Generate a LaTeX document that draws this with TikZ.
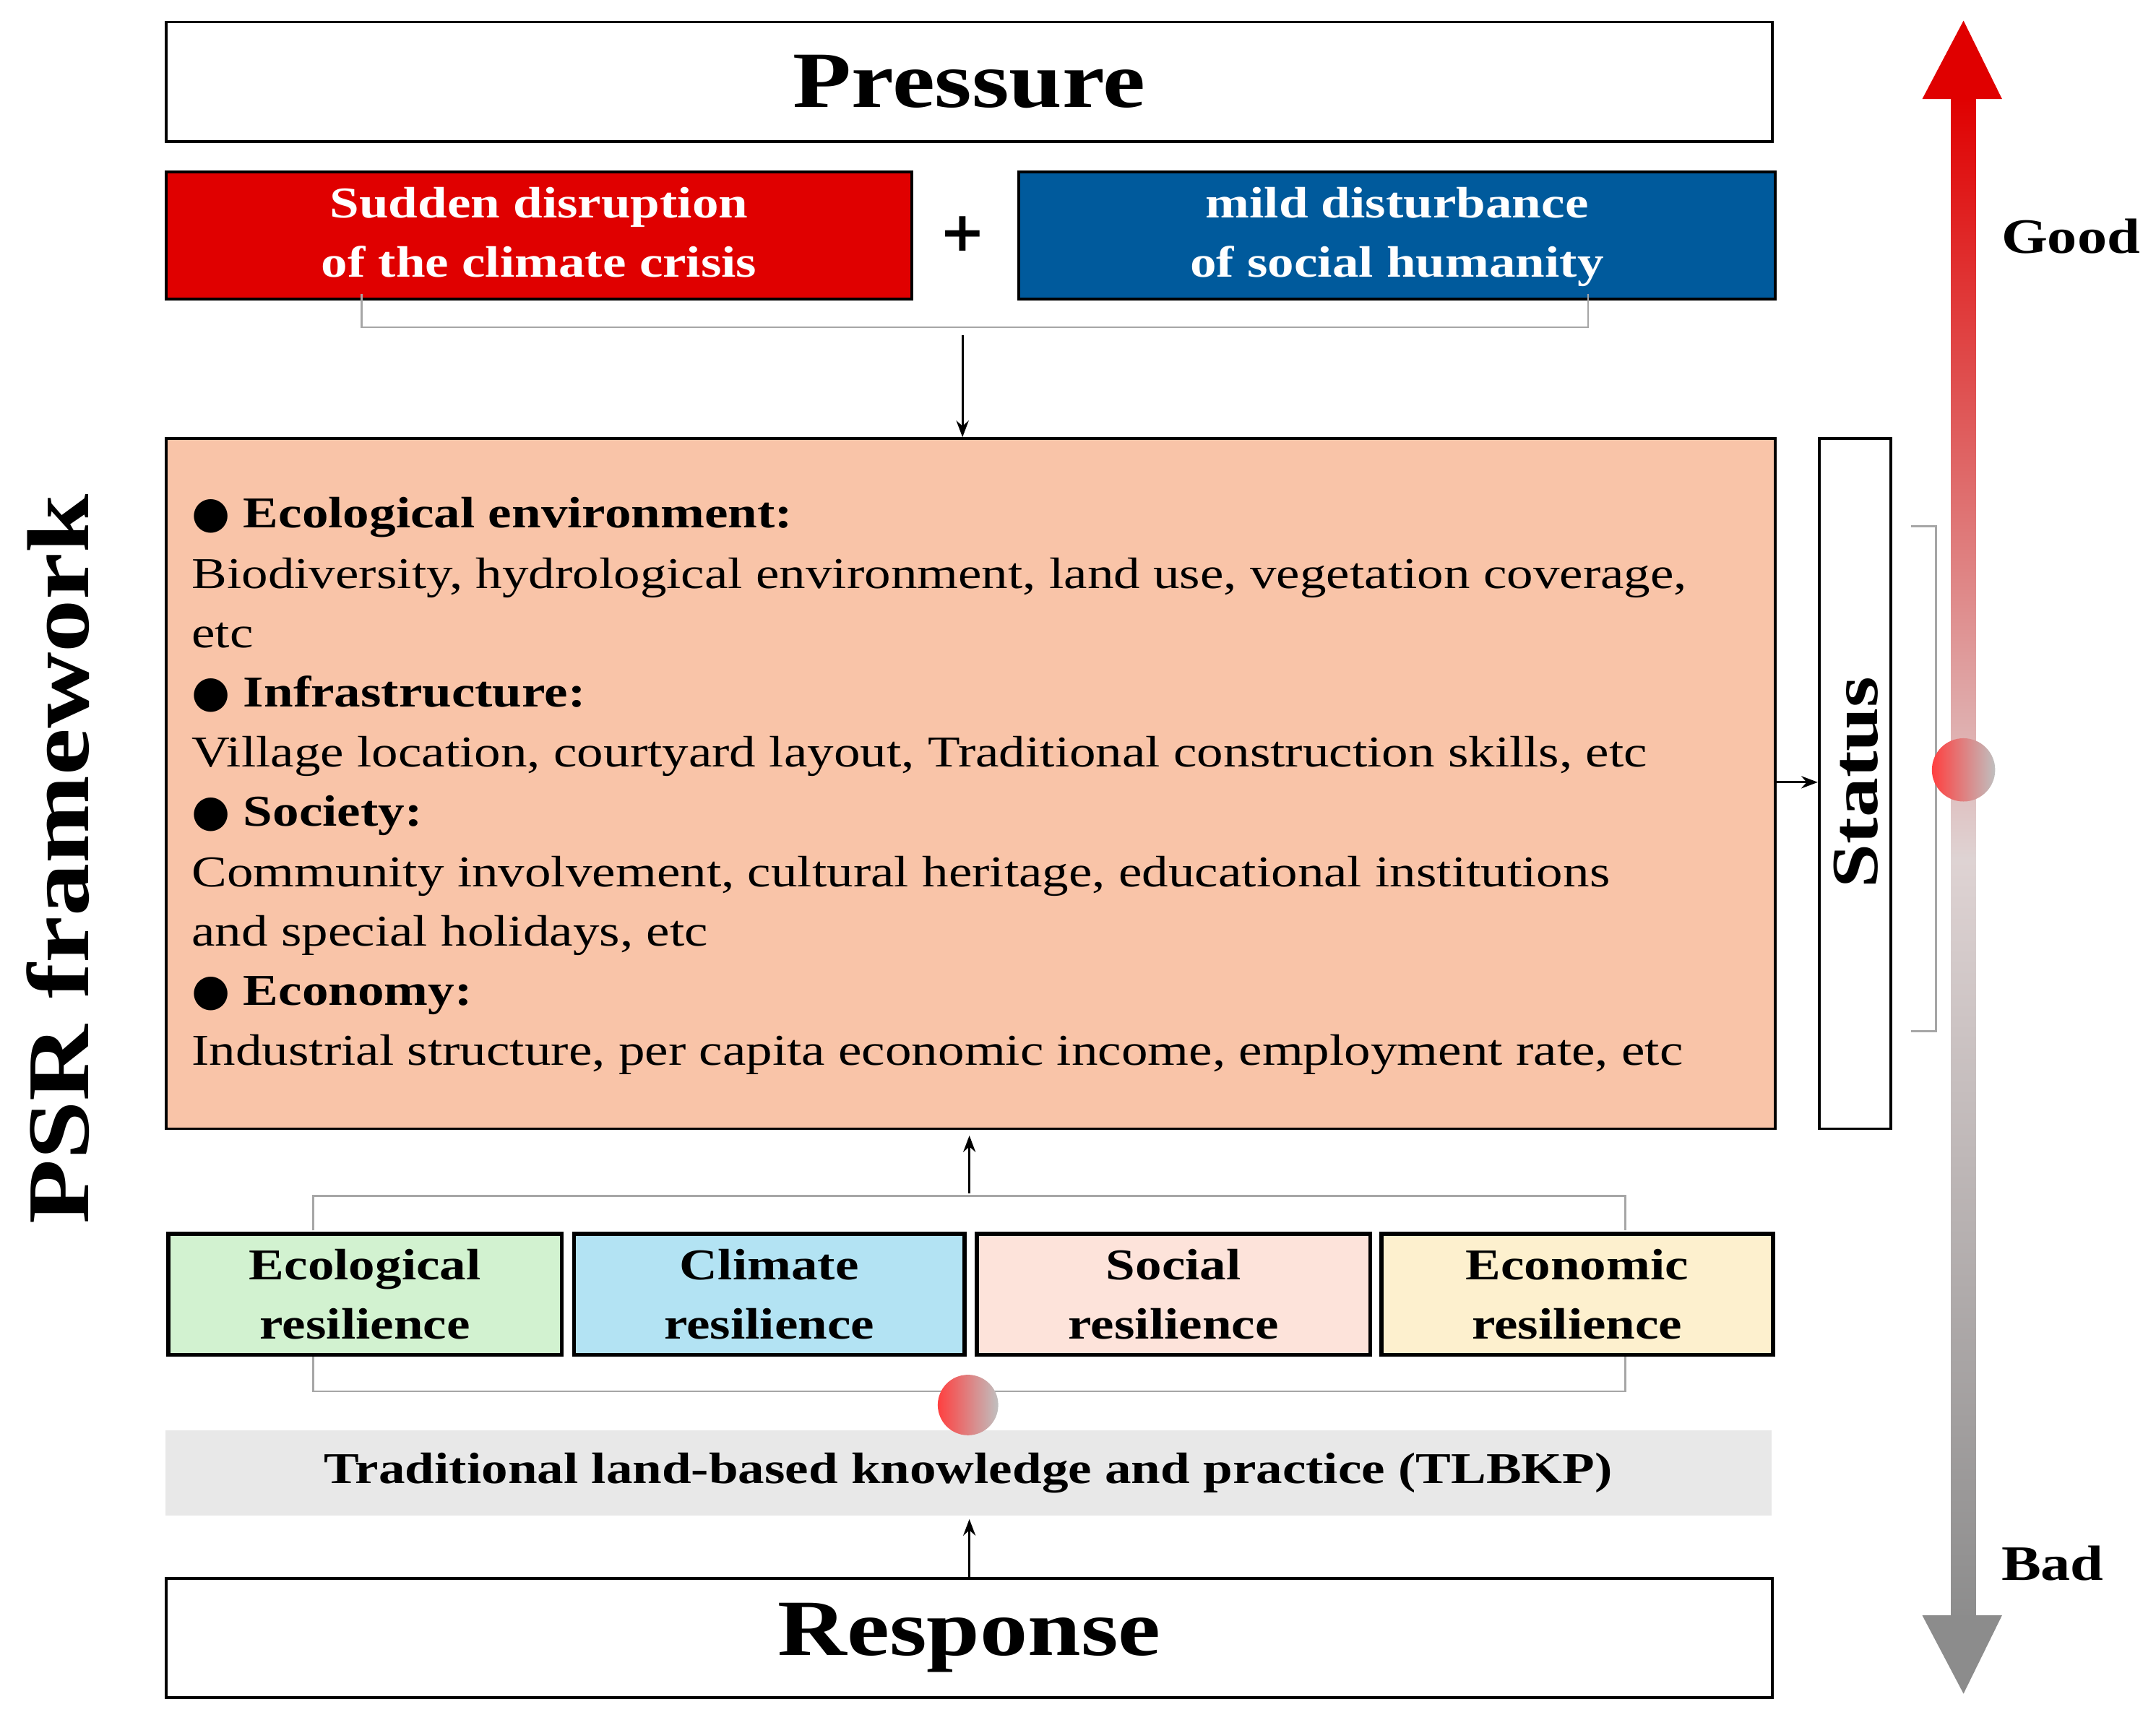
\documentclass[tikz,border=0pt]{standalone}
\usepackage{fontspec}
\setmainfont{Liberation Serif}[FakeStretch=1.2]
\usetikzlibrary{arrows.meta}
\newfontfamily\symfont{DejaVu Sans}
\definecolor{cred}{HTML}{E00000}
\definecolor{cblue}{HTML}{005A9C}
\definecolor{corange}{HTML}{F9C4A8}
\definecolor{cgreen}{HTML}{D2F2D0}
\definecolor{ccyan}{HTML}{B3E3F3}
\definecolor{cpink}{HTML}{FDE3DA}
\definecolor{cyellow}{HTML}{FDF0CE}
\tikzset{
 big/.style={font=\fontsize{58}{64}\selectfont\bfseries},
 mid/.style={font=\fontsize{32}{43}\selectfont\bfseries},
 frame/.style={draw=black,line width=2pt},
 resbox/.style={draw=black,line width=3pt,mid,align=center},
 brk/.style={draw=gray!70,line width=1.5pt},
 arr/.style={-{Stealth[length=12pt,width=9pt]},line width=1.5pt},
}
\begin{document}
\begin{tikzpicture}[x=1pt,y=-1pt]
\useasboundingbox (0,0) rectangle (1568,1251);
% pressure
\node[frame,minimum width=1168,minimum height=87,anchor=north west,big] (p) at (120,15) {Pressure};
\node[frame,fill=cred,minimum width=542,minimum height=90,anchor=north west,mid,text=white,align=center] (red) at (120,124) {Sudden disruption\strut\\of the climate crisis\strut};
\node[frame,fill=cblue,minimum width=550,minimum height=90,anchor=north west,mid,text=white,align=center] (blue) at (740,124) {mild disturbance\strut\\of social humanity\strut};
\node[font=\symfont\fontsize{40}{40}\selectfont\bfseries] (plus) at (700,170) {+};
\draw[brk] (263,214) -- (263,238) -- (1155,238) -- (1155,214);
\coordinate (pt) at (700,244);
% status block
\node[frame,fill=corange,minimum width=1170,minimum height=502,anchor=north west] (st) at (120,318) {};
\draw[arr] (pt) -- (pt |- st.north);
\begin{scope}[font=\fontsize{32}{32}\selectfont]
\node[anchor=base west] at (136,384) {{\symfont ●} \textbf{Ecological environment:}};
\node[anchor=base west] at (136,428) {Biodiversity, hydrological environment, land use, vegetation coverage,};
\node[anchor=base west] at (136,471) {etc};
\node[anchor=base west] at (136,514) {{\symfont ●} \textbf{Infrastructure:}};
\node[anchor=base west] at (136,558) {Village location, courtyard layout, Traditional construction skills, etc};
\node[anchor=base west] at (136,601) {{\symfont ●} \textbf{Society:}};
\node[anchor=base west] at (136,645) {Community involvement, cultural heritage, educational institutions};
\node[anchor=base west] at (136,688) {and special holidays, etc};
\node[anchor=base west] at (136,731) {{\symfont ●} \textbf{Economy:}};
\node[anchor=base west] at (136,775) {Industrial structure, per capita economic income, employment rate, etc};
\end{scope}
\node[frame,minimum width=52,minimum height=502,anchor=north west] (sb) at (1322,318) {};
\node[rotate=90,font=\fontsize{48}{48}\selectfont\bfseries] (stt) at (1350,569) {Status};
\draw[arr] (1290,569) -- (sb.west |- 0,569);
\draw[brk] (1390,383) -- (1408,383) -- (1408,750) -- (1390,750);
% PSR
\node[rotate=90,font=\fontsize{64}{64}\selectfont\bfseries] (psr) at (42,625) {PSR framework};
% resilience
\draw[brk] (228,895) -- (228,870) -- (1182,870) -- (1182,895);
\draw[brk] (228,985) -- (228,1012) -- (1182,1012) -- (1182,985);
\draw[arr] (705,868) -- (705,826);
\node[resbox,fill=cgreen,minimum width=286,minimum height=88,anchor=north west] (r1) at (121,896) {Ecological\\resilience};
\node[resbox,fill=ccyan,minimum width=284,minimum height=88,anchor=north west] (r2) at (416,896) {Climate\\resilience};
\node[resbox,fill=cpink,minimum width=286,minimum height=88,anchor=north west] (r3) at (709,896) {Social\\resilience};
\node[resbox,fill=cyellow,minimum width=285,minimum height=88,anchor=north west] (r4) at (1003,896) {Economic\\resilience};
% TLBKP
\node[fill=gray!18,minimum width=1168,minimum height=62,anchor=north west,mid] (t) at (120,1040) {Traditional land-based knowledge and practice (TLBKP)};
\shade[left color=red!75,right color=gray!50] (704,1022) circle (22);
% response
\node[frame,minimum width=1168,minimum height=87,anchor=north west,big] (r) at (120,1147) {Response};
\draw[arr] (r.north -| 705,0) -- (705,1105);
% scale arrow
\shade[top color=cred,bottom color=gray!90,middle color=red!15!gray!30] (1419,70) rectangle (1437,1180);
\fill[cred] (1398,72) -- (1456,72) -- (1428,15) -- cycle;
\fill[gray!90] (1398,1175) -- (1456,1175) -- (1428,1232) -- cycle;
\shade[left color=red!75,right color=gray!50] (1428,560) circle (23);
\node[font=\fontsize{36}{36}\selectfont\bfseries,anchor=west] (good) at (1452,172) {Good};
\node[font=\fontsize{36}{36}\selectfont\bfseries,anchor=west] (bad) at (1452,1137) {Bad};
\end{tikzpicture}
\end{document}
